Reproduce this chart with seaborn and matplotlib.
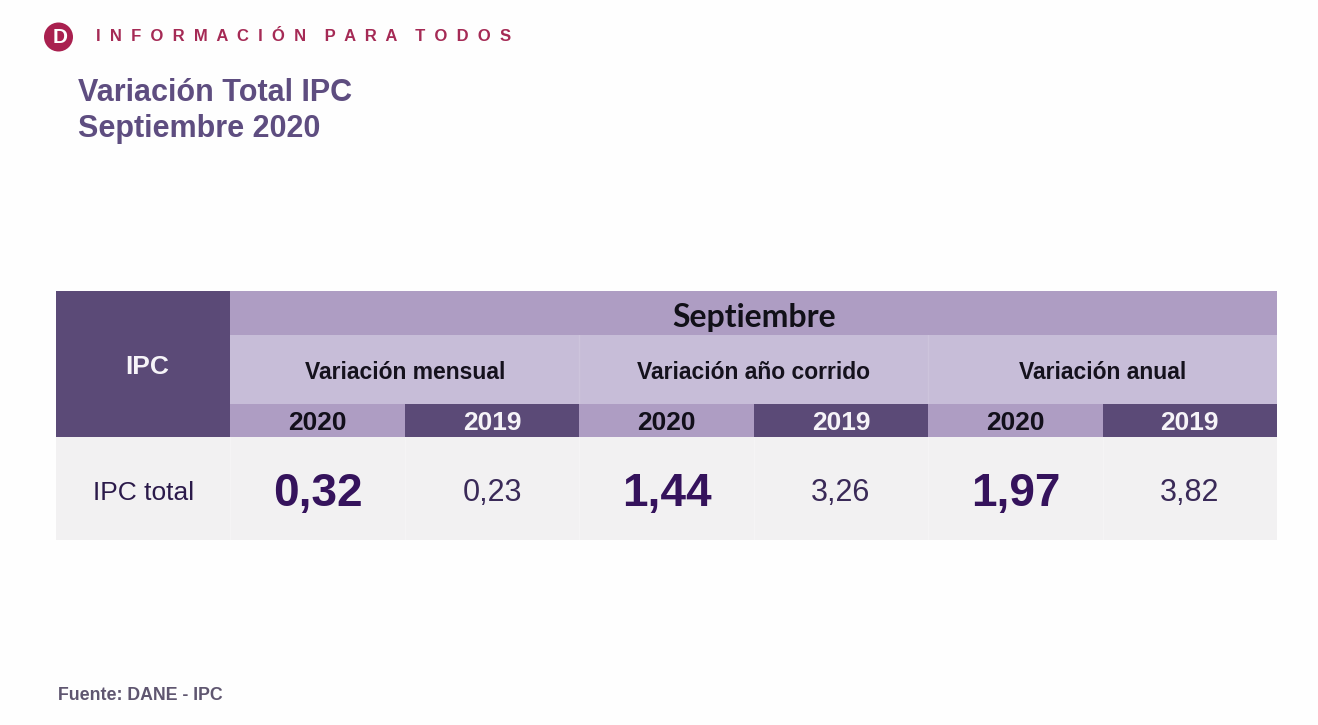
import numpy as np
import seaborn as sns
import matplotlib
import matplotlib.pyplot as plt
from matplotlib.colors import ListedColormap
from matplotlib.patches import Circle

matplotlib.use('Agg')

W, H = 1318, 725

header_text = "I  N  F  O  R  M  A  C  I  Ó  N    P  A  R  A    T  O  D  O  S"
logo_text = "D"
title_lines = ["Variación Total IPC", "Septiembre 2020"]
source_text = "Fuente: DANE - IPC"
band_title = "Septiembre"
row_label = "IPC"
row_name = "IPC total"
groups = ["Variación mensual", "Variación año corrido", "Variación anual"]
years = ["2020", "2019", "2020", "2019", "2020", "2019"]
values = [0.32, 0.23, 1.44, 3.26, 1.97, 3.82]

DARK = '#5b4a77'
MID = '#ae9dc3'
LIGHT = '#c7bdd8'
GREY = '#f2f1f2'
INK = '#35135c'
TITLE = '#5e4d80'

plt.rcParams['font.family'] = ['Liberation Sans', 'DejaVu Sans']
fig = plt.figure(figsize=(W / 100, H / 100), dpi=100, facecolor='#fefefe')

TABLE_L, TABLE_R = 56, 1277


def band(top, bottom, codes):
    """one 1x7 heatmap strip placed by pixel rows"""
    ax = fig.add_axes([TABLE_L / W, 1 - bottom / H, (TABLE_R - TABLE_L) / W, (bottom - top) / H])
    sns.heatmap(np.array([codes]), ax=ax, cmap=ListedColormap([DARK, MID, LIGHT, GREY]),
                vmin=-0.5, vmax=3.5, cbar=False, xticklabels=False, yticklabels=False)
    ax.set_xlabel('')
    ax.set_ylabel('')
    return ax


# === table bands ===
ax_top = band(291, 335, [0, 1, 1, 1, 1, 1, 1])
ax_top.text(4, 0.6, band_title, ha='center', va='center', fontsize=23, fontweight='bold',
            family=['Lato', 'DejaVu Sans'], color='#111018')

ax_grp = band(335, 404, [0, 2, 2, 2, 2, 2, 2])
for i, name in enumerate(groups):
    ax_grp.text(2 + 2 * i, 0.54, name, ha='center', va='center', fontsize=16.5,
                fontweight='bold', color='#15121d')
for x in [3, 5]:
    ax_grp.axvline(x, color='#cdc4dc', lw=1)
ax_grp.text(0.52, 0.47, row_label, ha='center', va='center', fontsize=19,
            fontweight='bold', color='#f6f4f8')

ax_year = band(404, 437, [0, 1, 0, 1, 0, 1, 0])
for i, year in enumerate(years):
    ax_year.text(i + 1.5, 0.57, year, ha='center', va='center', fontsize=19, fontweight='bold',
                 color='#120f1a' if i % 2 == 0 else '#f6f4f8')

ax_val = band(437, 540, [3] * 7)
ax_val.text(0.5, 0.54, row_name, ha='center', va='center', fontsize=19, color='#2b1a4a')
for i, val in enumerate(values):
    label = f"{val:.2f}".replace('.', ',')
    big = i % 2 == 0
    ax_val.text(i + 1.5, 0.55 if big else 0.54, label, ha='center', va='center',
                color=INK if big else '#3a2a58',
                fontsize=33 if big else 22, fontweight='bold' if big else 'normal')
for x in range(1, 7):
    ax_val.axvline(x, color='#f5f4f5', lw=1)

# === slide text, pixel coordinates ===
page = fig.add_axes([0, 0, 1, 1], facecolor='none')
page.set_xlim(0, W)
page.set_ylim(H, 0)
page.set_aspect('equal')
page.axis('off')

page.add_patch(Circle((58.5, 37), 14.5, color='#a9204f', lw=0))
page.text(60, 37.5, logo_text, ha='center', va='center', fontsize=15, fontweight='bold', color='white')
page.text(96, 36, header_text, ha='left', va='center', fontsize=12, fontweight='bold', color='#a52a55')

page.text(78, 93, title_lines[0], ha='left', va='center', fontsize=22, fontweight='bold', color=TITLE)
page.text(78, 129, title_lines[1], ha='left', va='center', fontsize=22, fontweight='bold', color=TITLE)
page.text(58, 695, source_text, ha='left', va='center', fontsize=12.8, fontweight='bold', color='#5f5670')

fig.savefig('out.png', dpi=100, facecolor=fig.get_facecolor())
